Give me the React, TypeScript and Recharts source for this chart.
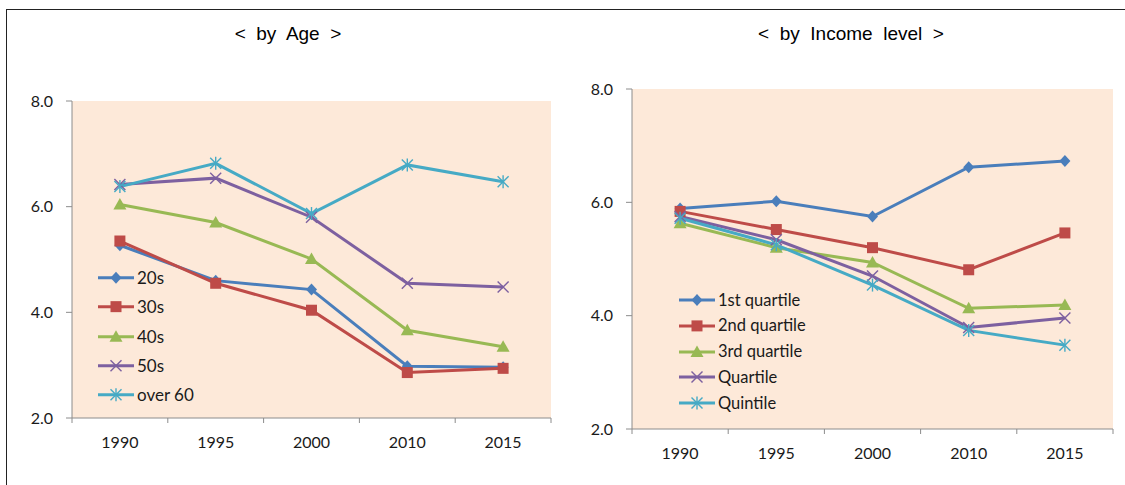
import { LineChart, Line, XAxis, YAxis, CartesianGrid, Legend } from 'recharts'

const YEARS = ['1990', '1995', '2000', '2010', '2015']
const Y_TICKS = [2, 4, 6, 8]

// < by Age >
const AGE_NAMES = ['20s', '30s', '40s', '50s', 'over 60']
const AGE_20S = [5.27, 4.6, 4.43, 2.98, 2.96]
const AGE_30S = [5.35, 4.55, 4.04, 2.86, 2.94]
const AGE_40S = [6.04, 5.7, 5.01, 3.66, 3.35]
const AGE_50S = [6.42, 6.54, 5.8, 4.55, 4.48]
const AGE_60PLUS = [6.38, 6.82, 5.87, 6.79, 6.47]

// < by Income level >
const INCOME_NAMES = ['1st quartile', '2nd quartile', '3rd quartile', 'Quartile', 'Quintile']
const INC_Q1 = [5.89, 6.02, 5.75, 6.62, 6.73]
const INC_Q2 = [5.84, 5.52, 5.2, 4.81, 5.46]
const INC_Q3 = [5.63, 5.2, 4.94, 4.13, 4.19]
const INC_Q4 = [5.75, 5.34, 4.7, 3.79, 3.96]
const INC_Q5 = [5.72, 5.25, 4.54, 3.74, 3.48]

const COLORS = ['#4A7EBB', '#BE4B48', '#98B954', '#7D60A0', '#46AAC5']
const SHAPES = ['diamond', 'square', 'triangle', 'cross', 'star']
const PLOT_BG = '#FDE9D9'
const AXIS = '#8C8C8C'
const TEXT = '#1A1A1A'
const FONT = 'Lato, "Open Sans", sans-serif'

const toRows = (series: number[][]) =>
  YEARS.map((year, i) => {
    const row: Record<string, any> = { year }
    series.forEach((s, k) => (row['s' + k] = s[i]))
    return row
  })

const ageData = toRows([AGE_20S, AGE_30S, AGE_40S, AGE_50S, AGE_60PLUS])
const incomeData = toRows([INC_Q1, INC_Q2, INC_Q3, INC_Q4, INC_Q5])

function Marker({ shape, cx, cy, color }: { shape: string; cx: number; cy: number; color: string }) {
  if (cx == null || cy == null) return null
  switch (shape) {
    case 'diamond':
      return <polygon points={`${cx},${cy - 6} ${cx + 5.5},${cy} ${cx},${cy + 6} ${cx - 5.5},${cy}`} fill={color} />
    case 'square':
      return <rect x={cx - 5.5} y={cy - 5.5} width={11} height={11} fill={color} />
    case 'triangle':
      return <polygon points={`${cx},${cy - 6.5} ${cx + 6.5},${cy + 5} ${cx - 6.5},${cy + 5}`} fill={color} />
    case 'cross':
      return (
        <g stroke={color} strokeWidth={1.4}>
          <line x1={cx - 5.5} y1={cy - 5.5} x2={cx + 5.5} y2={cy + 5.5} />
          <line x1={cx - 5.5} y1={cy + 5.5} x2={cx + 5.5} y2={cy - 5.5} />
        </g>
      )
    default:
      return (
        <g stroke={color} strokeWidth={1.4}>
          <line x1={cx - 5.5} y1={cy - 5.5} x2={cx + 5.5} y2={cy + 5.5} />
          <line x1={cx - 5.5} y1={cy + 5.5} x2={cx + 5.5} y2={cy - 5.5} />
          <line x1={cx} y1={cy - 6.5} x2={cx} y2={cy + 6.5} />
        </g>
      )
  }
}

function makeXTick(step: number) {
  return (props: any) => {
    const { x, y, payload, index } = props
    const half = step / 2
    return (
      <g>
        <line x1={x - half} y1={y} x2={x - half} y2={y + 5} stroke={AXIS} />
        {index === YEARS.length - 1 && <line x1={x + half} y1={y} x2={x + half} y2={y + 5} stroke={AXIS} />}
        <text x={x} y={y + 29.5} textAnchor="middle" fontSize={16} fontFamily={FONT} fill={TEXT}>
          {payload.value}
        </text>
      </g>
    )
  }
}

function makeLegend(names: string[], rowH: number, fontSize: number) {
  return () => (
    <div style={{ fontFamily: FONT, fontSize, color: TEXT }}>
      {names.map((name, k) => (
        <div key={name} style={{ display: 'flex', alignItems: 'center', height: rowH }}>
          <svg width={37} height={rowH}>
            <line x1={0} y1={rowH / 2} x2={36} y2={rowH / 2} stroke={COLORS[k]} strokeWidth={3} />
            <Marker shape={SHAPES[k]} cx={18} cy={rowH / 2} color={COLORS[k]} />
          </svg>
          <span style={{ marginLeft: 2, lineHeight: 1 }}>{name}</span>
        </div>
      ))}
    </div>
  )
}

function Panel(props: {
  data: any[]
  names: string[]
  width: number
  margin: { top: number; right: number; bottom: number; left: number }
  legendPos: { left: number; top: number }
  rowH: number
  legendFont: number
}) {
  const { data, names, width, margin, legendPos, rowH, legendFont } = props
  const step = (width - margin.left - margin.right - 60) / YEARS.length
  return (
    <LineChart width={width} height={485} data={data} margin={margin}>
      <CartesianGrid horizontal={false} vertical={false} fill={PLOT_BG} />
      <XAxis
        dataKey="year"
        height={30}
        padding={{ left: step / 2, right: step / 2 }}
        axisLine={{ stroke: AXIS }}
        tickLine={false}
        tickSize={0}
        tickMargin={0}
        interval={0}
        tick={makeXTick(step)}
      />
      <YAxis
        width={60}
        domain={[2, 8]}
        ticks={Y_TICKS}
        axisLine={{ stroke: AXIS }}
        tickLine={{ stroke: AXIS }}
        tickSize={6}
        tickMargin={13}
        tickFormatter={(v: number) => v.toFixed(1)}
        tick={{ fontSize: 16, fontFamily: FONT, fill: TEXT }}
      />
      <Legend
        layout="vertical"
        align="center"
        verticalAlign="middle"
        wrapperStyle={{ left: legendPos.left, top: legendPos.top, width: 'auto' }}
        content={makeLegend(names, rowH, legendFont)}
      />
      {names.map((name, k) => (
        <Line
          key={name}
          dataKey={'s' + k}
          name={name}
          stroke={COLORS[k]}
          strokeWidth={3}
          isAnimationActive={false}
          dot={(p: any) => <Marker key={p.index} shape={SHAPES[k]} cx={p.cx} cy={p.cy} color={COLORS[k]} />}
        />
      ))}
    </LineChart>
  )
}

const titleStyle = {
  position: 'absolute' as const,
  top: 23,
  fontFamily: '"Liberation Sans", Arial, sans-serif',
  fontSize: 19,
  whiteSpace: 'pre' as const,
  transform: 'translateX(-50%)',
  color: '#000',
}

export default function App() {
  return (
    <div style={{ position: 'absolute', left: 0, top: 0, width: 1125, height: 485, background: '#fff', overflow: 'hidden' }}>
      <div
        style={{
          position: 'absolute',
          left: 6,
          top: 9,
          width: 1125,
          height: 490,
          borderTop: '1.5px solid #222',
          borderLeft: '1.5px solid #222',
        }}
      />
      <div style={{ ...titleStyle, left: 288 }}>{'<  by  Age  >'}</div>
      <div style={{ ...titleStyle, left: 851 }}>{'<  by  Income  level  >'}</div>
      <div style={{ position: 'absolute', left: 0, top: 0 }}>
        <Panel
          data={ageData}
          names={AGE_NAMES}
          width={560}
          margin={{ top: 101, right: 9, bottom: 37, left: 12 }}
          legendPos={{ left: 98, top: 263 }}
          rowH={29.3}
          legendFont={17}
        />
      </div>
      <div style={{ position: 'absolute', left: 560, top: 0 }}>
        <Panel
          data={incomeData}
          names={INCOME_NAMES}
          width={565}
          margin={{ top: 89, right: 12, bottom: 26, left: 12 }}
          legendPos={{ left: 119, top: 287 }}
          rowH={25.8}
          legendFont={16.5}
        />
      </div>
    </div>
  )
}
